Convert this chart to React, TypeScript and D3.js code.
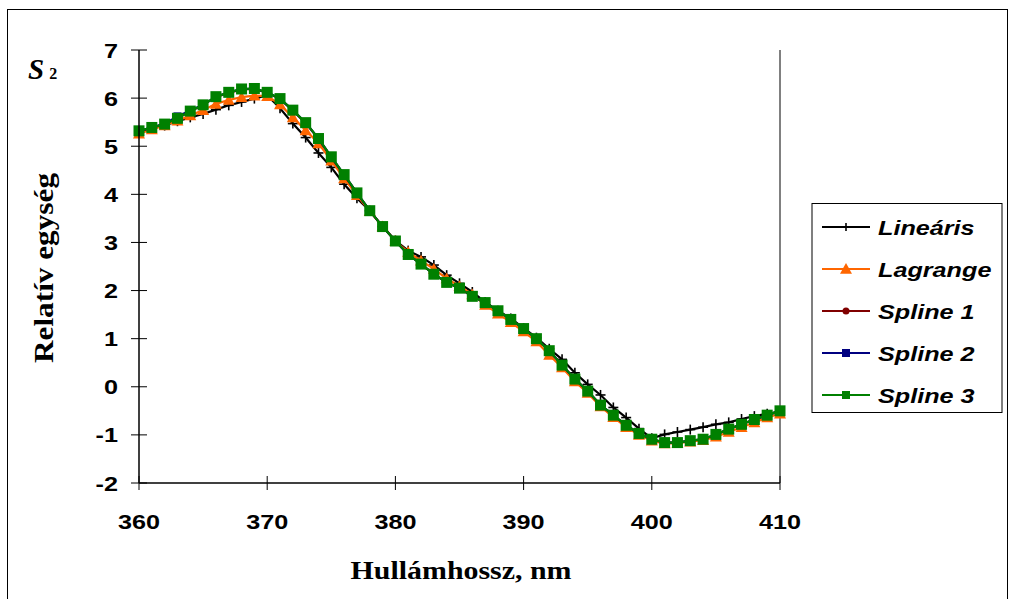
import React from "react";
import * as d3 from "d3";

const wavelengths = d3.range(360, 411);

const linearis = [
  5.30, 5.37, 5.43, 5.52, 5.60, 5.67, 5.76, 5.85, 5.92, 5.99,
  6.06, 5.79, 5.47, 5.18, 4.86, 4.56, 4.21, 3.92, 3.66, 3.33,
  3.04, 2.83, 2.70, 2.53, 2.32, 2.15, 1.97, 1.76, 1.58, 1.42,
  1.22, 1.02, 0.79, 0.57, 0.29, 0.05, -0.17, -0.43, -0.64, -0.87,
  -1.07, -0.99, -0.94, -0.89, -0.84, -0.78, -0.74, -0.67, -0.61, -0.56, -0.52,
];

const lagrange = [
  5.26, 5.35, 5.43, 5.53, 5.64, 5.75, 5.88, 5.96, 6.02, 6.05,
  6.04, 5.87, 5.60, 5.33, 5.06, 4.70, 4.33, 3.98, 3.65, 3.33,
  3.03, 2.80, 2.62, 2.45, 2.25, 2.09, 1.92, 1.70, 1.52, 1.34,
  1.15, 0.94, 0.66, 0.40, 0.11, -0.13, -0.41, -0.63, -0.84, -1.00,
  -1.12, -1.18, -1.17, -1.14, -1.11, -1.04, -0.94, -0.84, -0.74, -0.64, -0.56,
];

const spline1 = [
  5.31, 5.38, 5.46, 5.58, 5.72, 5.86, 6.02, 6.11, 6.18, 6.19,
  6.11, 5.98, 5.74, 5.48, 5.15, 4.77, 4.40, 4.02, 3.66, 3.33,
  3.03, 2.75, 2.55, 2.34, 2.17, 2.04, 1.88, 1.75, 1.58, 1.40,
  1.21, 1.00, 0.75, 0.45, 0.16, -0.09, -0.38, -0.59, -0.80, -0.97,
  -1.09, -1.16, -1.16, -1.12, -1.09, -0.99, -0.88, -0.78, -0.68, -0.59, -0.50,
];

const spline2 = [
  5.32, 5.39, 5.47, 5.62, 5.74, 5.86, 6.03, 6.12, 6.19, 6.20,
  6.12, 5.99, 5.75, 5.49, 5.16, 4.78, 4.41, 4.03, 3.66, 3.33,
  3.03, 2.75, 2.55, 2.34, 2.17, 2.05, 1.88, 1.75, 1.58, 1.40,
  1.21, 1.00, 0.75, 0.45, 0.16, -0.09, -0.38, -0.59, -0.80, -0.97,
  -1.09, -1.16, -1.16, -1.12, -1.09, -0.99, -0.88, -0.78, -0.68, -0.59, -0.50,
];

const spline3 = [
  5.32, 5.39, 5.46, 5.58, 5.73, 5.86, 6.03, 6.12, 6.19, 6.20,
  6.12, 5.99, 5.75, 5.49, 5.16, 4.78, 4.41, 4.03, 3.66, 3.33,
  3.03, 2.75, 2.55, 2.34, 2.17, 2.05, 1.88, 1.75, 1.58, 1.40,
  1.21, 1.00, 0.75, 0.45, 0.16, -0.09, -0.38, -0.59, -0.80, -0.97,
  -1.09, -1.16, -1.16, -1.12, -1.09, -0.99, -0.88, -0.78, -0.68, -0.59, -0.50,
];

const xTicks = [360, 370, 380, 390, 400, 410];
const yTicks = [-2, -1, 0, 1, 2, 3, 4, 5, 6, 7];

type Marker = "plus" | "triangle" | "circle" | "square" | "bigsquare";

const seriesList: { name: string; values: number[]; color: string; marker: Marker }[] = [
  { name: "Lineáris", values: linearis, color: "#000000", marker: "plus" },
  { name: "Lagrange", values: lagrange, color: "#FF6600", marker: "triangle" },
  { name: "Spline 1", values: spline1, color: "#800000", marker: "circle" },
  { name: "Spline 2", values: spline2, color: "#000080", marker: "square" },
  { name: "Spline 3", values: spline3, color: "#008000", marker: "bigsquare" },
];

const L = 139, R = 780, T = 50, B = 483;
const SX = 1.2;

function MarkerShape({ type, x, y, color, legend }: { type: Marker; x: number; y: number; color: string; legend?: boolean }) {
  if (type === "plus") {
    const s = legend ? 4 : 5;
    return (
      <g stroke={color} strokeWidth={1.6}>
        <line x1={x - s} x2={x + s} y1={y} y2={y} />
        <line x1={x} x2={x} y1={y - s} y2={y + s} />
      </g>
    );
  }
  if (type === "triangle") {
    const s = legend ? 6 : 6;
    return <path d={`M${x},${y - s}L${x + s},${y + s * 0.8}L${x - s},${y + s * 0.8}Z`} fill={color} />;
  }
  if (type === "circle") {
    return <circle cx={x} cy={y} r={3.5} fill={color} />;
  }
  const s = type === "bigsquare" ? (legend ? 4 : 5.5) : 4;
  return <rect x={x - s} y={y - s} width={2 * s} height={2 * s} fill={color} />;
}

function SText({ x, y, anchor, size, children, italic, serif, sx = SX }: any) {
  return (
    <text
      transform={`translate(${x},${y}) scale(${sx},1)`}
      textAnchor={anchor || "start"}
      fontSize={size}
      fontWeight="bold"
      fontStyle={italic ? "italic" : "normal"}
      fontFamily={serif ? "'Liberation Serif', 'Times New Roman', serif" : "'Liberation Sans', Arial, sans-serif"}
    >
      {children}
    </text>
  );
}

export default function App() {
  const x = d3.scaleLinear().domain([360, 410]).range([L, R]);
  const y = d3.scaleLinear().domain([-2, 7]).range([B, T]);
  const line = d3
    .line<[number, number]>()
    .x((d) => x(d[0]))
    .y((d) => y(d[1]));

  const legendY = [227, 269, 311, 353, 395];

  return (
    <svg
      width={1011}
      height={599}
      style={{ position: "absolute", left: 0, top: 0, background: "#fff" }}
      fontFamily="'Liberation Sans', Arial, sans-serif"
    >
      <rect x={7.5} y={9.5} width={1000} height={600} fill="#fff" stroke="#000" strokeWidth={1} />

      {/* plot right border */}
      <line x1={R} x2={R} y1={T} y2={B} stroke="#808080" strokeWidth={2} />

      {/* series */}
      {seriesList.map((s) => {
        const pts: [number, number][] = wavelengths.map((w, i) => [w, s.values[i]]);
        return (
          <g key={s.name}>
            <path d={line(pts) || ""} fill="none" stroke={s.color} strokeWidth={2.2} />
            {pts.map((p, i) => (
              <MarkerShape key={i} type={s.marker} x={x(p[0])} y={y(p[1])} color={s.color} />
            ))}
          </g>
        );
      })}

      {/* axes */}
      <line x1={L} x2={L} y1={T} y2={B} stroke="#000" strokeWidth={1.5} />
      <line x1={L} x2={R} y1={B} y2={B} stroke="#000" strokeWidth={1.5} />
      {yTicks.map((t) => (
        <g key={t}>
          <line x1={L - 8} x2={L + 8} y1={y(t)} y2={y(t)} stroke="#000" strokeWidth={1} />
          <SText x={118} y={y(t) + 7.5} anchor="end" size={21}>
            {t}
          </SText>
        </g>
      ))}
      {xTicks.map((t) => (
        <g key={t}>
          <line x1={x(t)} x2={x(t)} y1={B - 7} y2={B + 7} stroke="#000" strokeWidth={1} />
          <SText x={x(t)} y={529} anchor="middle" size={21}>
            {t}
          </SText>
        </g>
      ))}

      {/* titles */}
      <SText x={461} y={579} anchor="middle" size={26} serif sx={1.15}>
        Hullámhossz, nm
      </SText>
      <text
        transform="translate(53,268) rotate(-90)"
        textAnchor="middle"
        fontFamily="'Liberation Serif', 'Times New Roman', serif"
        fontWeight="bold"
        fontSize={27}
        textLength={190}
        lengthAdjust="spacingAndGlyphs"
      >
        Relatív egység
      </text>
      <text
        x={28}
        y={79}
        fontFamily="'Liberation Serif', 'Times New Roman', serif"
        fontWeight="bold"
        fontStyle="italic"
        fontSize={29}
      >
        S
        <tspan fontSize={16} fontStyle="normal" dx={5} dy={0}>
          2
        </tspan>
      </text>

      {/* legend */}
      <rect x={812} y={203.5} width={190} height={209} fill="#fff" stroke="#000" strokeWidth={1} />
      {seriesList.map((s, i) => (
        <g key={s.name}>
          <line x1={822} x2={870} y1={legendY[i]} y2={legendY[i]} stroke={s.color} strokeWidth={2} />
          <MarkerShape type={s.marker} x={846} y={legendY[i]} color={s.color} legend />
          <SText x={878} y={legendY[i] + 7.5} size={21} italic>
            {s.name}
          </SText>
        </g>
      ))}
    </svg>
  );
}
